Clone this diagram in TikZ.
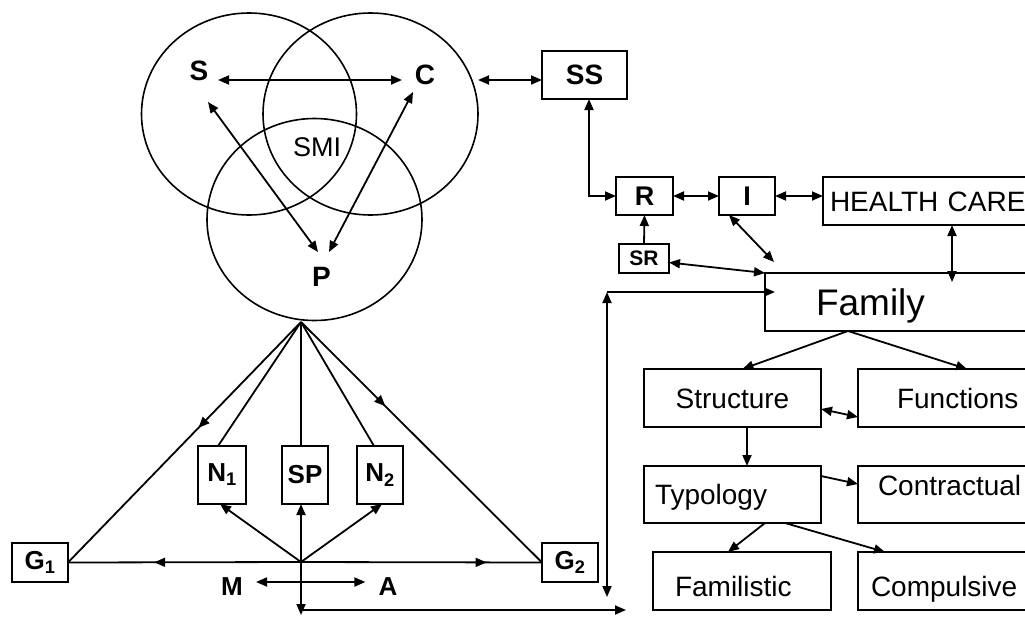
\documentclass[tikz,border=0pt]{standalone}
\usepackage{fontspec}
\setmainfont{Liberation Sans}
\usetikzlibrary{arrows.meta,shapes.geometric,decorations.markings}
\begin{document}
\begin{tikzpicture}[x=1pt,y=-1pt,
  >={Triangle[length=11pt,width=9pt]},
  conn/.style={draw,line width=1.8pt},
  box/.style={draw,line width=1.9pt,inner sep=0pt,outer sep=0pt,anchor=north west},
  circ/.style={draw,ellipse,line width=1.6pt,minimum width=215pt,minimum height=202pt,inner sep=0pt,outer sep=0pt},
  lbl/.style={font=\fontsize{28}{30}\selectfont\bfseries,inner sep=0pt},
  lbls/.style={font=\fontsize{26}{28}\selectfont\bfseries,inner sep=0pt},
  txt/.style={font=\fontsize{28}{32}\selectfont,text height=20pt,text depth=0pt},
  midarrow/.style={postaction={decorate},decoration={markings,mark=at position #1 with {\arrow{Triangle[length=11pt,width=9pt]}}}}
]
\useasboundingbox (0,0) rectangle (1025,616);
\clip (0,0) rectangle (1025,616);
\fill[white] (0,0) rectangle (1025,616);

% Venn circles
\node[circ] (cS) at (249,114) {};
\node[circ] (cC) at (370.5,114) {};
\node[circ] (cP) at (314.5,219.5) {};
\node[lbl] (S) at (199,71) {S};
\node[lbl] (C) at (425,75) {C};
\node[lbl] (P) at (321.5,277) {P};
\node[font=\fontsize{27}{30}\selectfont,inner sep=0pt] (SMI) at (317,147) {SMI};

\coordinate (Sa) at (218,80);
\coordinate (Ca) at (402,80);
\coordinate (Sb) at (208,102);
\coordinate (Pb) at (318,252);
\coordinate (Cb) at (413,92);
\coordinate (Pd) at (329,252);
\coordinate (Ce) at (478,80);
\draw[conn,<->] (Sa) -- (Ca);
\draw[conn,<->] (Sb) -- (Pb);
\draw[conn,<->] (Cb) -- (Pd);

% upper right boxes
\node[box,minimum width=85pt,minimum height=48pt,font=\fontsize{28}{30}\selectfont\bfseries] (SS) at (542,51) {SS};
\node[box,minimum width=57pt,minimum height=38pt,font=\fontsize{27}{30}\selectfont\bfseries] (R) at (616,177) {R};
\node[box,minimum width=56pt,minimum height=38pt,font=\fontsize{27}{30}\selectfont\bfseries] (I) at (719,177) {I};
\node[box,txt,minimum width=277pt,minimum height=48pt,text width=263pt,align=left] (HC) at (823,177) {HEALTH CARE};
\node[box,minimum width=50pt,minimum height=29pt,font=\fontsize{21}{24}\selectfont\bfseries] (SR) at (619,244) {SR};
\node[box,minimum width=335pt,minimum height=58pt,text width=233pt,align=left,font=\fontsize{37}{40}\selectfont,text height=26.5pt,text depth=0pt] (Family) at (765,273) {Family};

\draw[conn,<->] (Ce) -- ([yshift=-5pt]SS.west);
\draw[conn,<->] ([xshift=4.5pt]SS.south) |- (R.west);
\draw[conn,<->] (R.east) -- (I.west);
\draw[conn,<->] (I.east) -- (I.east -| HC.west);
\draw[conn,->] (SR.north) -- (R.south);
\coordinate (fI) at (774,262);
\draw[conn,<->] ([xshift=10pt]I.south west) -- (fI);
\draw[conn,<->] ([yshift=-4pt]SR.east) -- (Family.north west);
\draw[conn,<->] ([xshift=129pt]HC.south west) -- ([xshift=187pt,yshift=-9pt]Family.north west);

% lower right boxes
\node[box,txt,minimum width=177pt,minimum height=58pt] (Str) at (644,369) {Structure};
\node[box,txt,minimum width=242pt,minimum height=58pt,text width=164pt,align=left] (Fun) at (858,369) {Functions};
\node[box,txt,minimum width=177pt,minimum height=57pt,text width=155pt,align=left] (Typ) at (644,466) {Typology};
\node[box,txt,minimum width=242pt,minimum height=57pt,text width=202pt,align=left,text depth=19pt] (Con) at (858,466) {Contractual};
\node[box,txt,minimum width=178pt,minimum height=58pt,text width=134pt,align=left,text height=30pt] (Fam) at (653,552) {Familistic};
\node[box,txt,minimum width=242pt,minimum height=58pt,text width=216pt,align=left,text height=30pt] (Com) at (858,552) {Compulsive};

\coordinate (Fs) at (848,331);
\draw[conn,->] (Fs) -- ([xshift=10pt]Str.north);
\draw[conn,->] (Fs) -- ([xshift=109pt]Fun.north west);
\draw[conn,<->] ([yshift=-11pt]Str.east) -- ([yshift=-19pt]Fun.west);
\draw[conn,->] ([xshift=14.5pt]Str.south) -- ([xshift=14.5pt]Typ.north);
\draw[conn,->] ([yshift=18.5pt]Typ.east) -- ([yshift=10.5pt]Con.west);
\draw[conn,->] ([xshift=121pt]Typ.south west) -- ([xshift=75pt]Fam.north west);
\draw[conn,->] ([xshift=141pt]Typ.south west) -- ([xshift=27pt]Com.north west);

% long connectors
\coordinate (Vt) at (607,292);
\coordinate (Vb) at (607,597);
\draw[conn,<->] (Vb) -- (Vt);
\draw[conn,->] (Vt) -- ([xshift=10pt,yshift=10pt]Family.west);

% lower left
\node[box,minimum width=48pt,minimum height=58pt,font=\fontsize{26}{28}\selectfont\bfseries] (N1) at (198,446) {N\textsubscript{1}};
\node[box,minimum width=46pt,minimum height=58pt,font=\fontsize{26}{28}\selectfont\bfseries] (SP) at (282,446) {SP};
\node[box,minimum width=46pt,minimum height=58pt,font=\fontsize{26}{28}\selectfont\bfseries] (N2) at (357,446) {N\textsubscript{2}};
\node[box,minimum width=56pt,minimum height=39pt,font=\fontsize{26}{28}\selectfont\bfseries] (G1) at (12,543) {G\textsubscript{1}};
\node[box,minimum width=56pt,minimum height=39pt,font=\fontsize{26}{28}\selectfont\bfseries] (G2) at (542,543) {G\textsubscript{2}};

\coordinate (Tp) at (301,322);
\coordinate (O) at (301,562);
\draw[conn,midarrow=0.44] (Tp) -- (G1.east);
\draw[conn,midarrow=0.35] (Tp) -- (G2.west);
\draw[conn] (Tp) -- ([xshift=-4pt]N1.north);
\draw[conn] (Tp) -- (Tp |- SP.north);
\draw[conn] (Tp) -- ([xshift=-6pt]N2.north);
\draw[conn,->] (O) -- ([xshift=-2pt]N1.south);
\draw[conn,->] (O) -- (O |- SP.south);
\draw[conn,->] (O) -- ([xshift=2pt]N2.south);
\draw[conn,midarrow=0.63] (O) -- (G1.east);
\draw[conn,midarrow=0.77] (O) -- (G2.west);

\coordinate (Ob) at (301,615);
\draw[conn,->] (O) -- (Ob);
\coordinate (Hb1) at (301,610);
\coordinate (Hb2) at (626,610);
\draw[conn,->] (Hb1) -- (Hb2);

\node[lbls,inner xsep=13pt] (M) at (232,587) {M};
\node[lbls,inner xsep=13pt] (A) at (388,587) {A};
\draw[conn,<->] ([yshift=5pt]M.east) -- ([yshift=5pt]A.west);
\end{tikzpicture}
\end{document}
